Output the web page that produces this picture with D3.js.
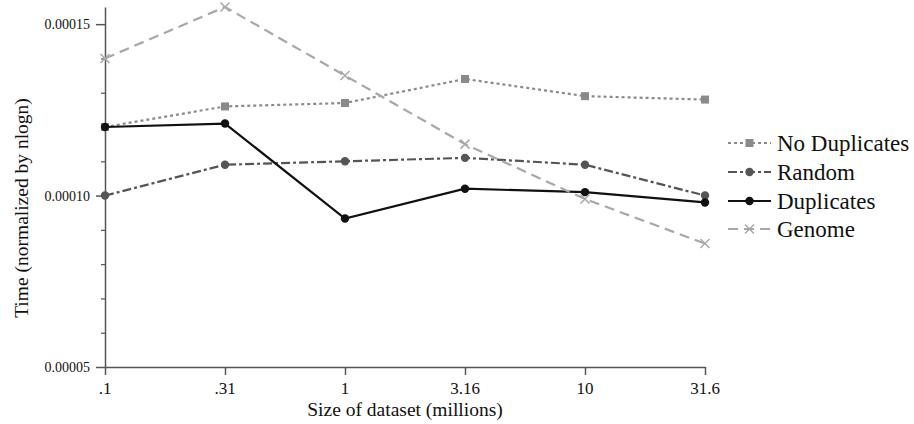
<!DOCTYPE html>
<html>
<head>
<meta charset="utf-8">
<script src="https://cdn.jsdelivr.net/npm/d3@7"></script>
<style>
  html, body { margin: 0; padding: 0; background: #fff; }
</style>
</head>
<body>
<svg id="chart" width="914" height="424"></svg>
<script>
const categories = [".1", ".31", "1", "3.16", "10", "31.6"];
const noDuplicates = [0.000120, 0.000126, 0.000127, 0.000134, 0.000129, 0.000128];
const random = [0.000100, 0.000109, 0.000110, 0.000111, 0.000109, 0.000100];
const duplicates = [0.000120, 0.000121, 0.0000933, 0.000102, 0.000101, 0.000098];
const genome = [0.000140, 0.000155, 0.000135, 0.000115, 0.000099, 0.000086];
const yMajorTicks = [0.00005, 0.00010, 0.00015];
const yMinorTicks = [0.00006, 0.00007, 0.00008, 0.00009, 0.00011, 0.00012, 0.00013, 0.00014];
const yTickLabels = ["0.00005", "0.00010", "0.00015"];

const FONT = "Liberation Serif";

const series = [
  { name: "No Duplicates", values: noDuplicates, color: "#8a8a8a", dash: "3,3", marker: "square" },
  { name: "Random", values: random, color: "#555555", dash: "9,3,3,3", marker: "circle" },
  { name: "Duplicates", values: duplicates, color: "#111111", dash: null, marker: "circle" },
  { name: "Genome", values: genome, color: "#a8a8a8", dash: "10,6", marker: "cross" }
];

const svg = d3.select("#chart");
const x = d3.scalePoint().domain(categories).range([105, 705]);
const y = d3.scaleLinear().domain([0.00005, 0.000155]).range([367, 7]);

const axisColor = "#555";

function addText(px, py, str, size, anchor, transform) {
  const t = svg.append("text")
    .attr("font-family", FONT).attr("font-size", size).attr("fill", "#111")
    .style("font-family", FONT).style("font-size", size + "px")
    .attr("text-anchor", anchor).text(str);
  if (transform) t.attr("transform", transform);
  else t.attr("x", px).attr("y", py);
  return t;
}

// y axis (lines via d3 axis, labels as top-level text)
const gy = svg.append("g").attr("transform", "translate(105,0)");
gy.call(d3.axisLeft(y).tickValues(yMajorTicks).tickSize(9).tickSizeOuter(0).tickFormat(""));
gy.select(".domain").attr("stroke", axisColor).attr("stroke-width", 1.5);
gy.selectAll(".tick line").attr("stroke", axisColor).attr("stroke-width", 1.5);
const gyMinor = svg.append("g").attr("transform", "translate(105,0)");
gyMinor.call(d3.axisLeft(y).tickValues(yMinorTicks).tickSize(4).tickFormat(""));
gyMinor.select(".domain").remove();
gyMinor.selectAll(".tick line").attr("stroke", axisColor).attr("stroke-width", 1.2);
yMajorTicks.forEach((v, i) => addText(90, y(v) + 5, yTickLabels[i], 14, "end"));

// x axis
const gx = svg.append("g").attr("transform", "translate(0,367)");
gx.call(d3.axisBottom(x).tickSize(8).tickSizeOuter(0).tickFormat(""));
gx.select(".domain").attr("stroke", axisColor).attr("stroke-width", 1.5);
gx.selectAll(".tick line").attr("stroke", axisColor).attr("stroke-width", 1.5);
categories.forEach(c => addText(x(c), 394, c, 17, "middle"));

// axis titles
addText(405, 416, "Size of dataset (millions)", 19.5, "middle");
addText(0, 0, "Time (normalized by nlogn)", 19.5, "middle", "translate(28,208) rotate(-90)");

function drawMarker(g, type, cx, cy, color) {
  if (type === "square") {
    g.append("rect").attr("x", cx - 4).attr("y", cy - 4).attr("width", 8).attr("height", 8).attr("fill", color);
  } else if (type === "circle") {
    g.append("circle").attr("cx", cx).attr("cy", cy).attr("r", 4.2).attr("fill", color);
  } else {
    const s = 4.5;
    g.append("path").attr("d", `M${cx - s},${cy - s}L${cx + s},${cy + s}M${cx - s},${cy + s}L${cx + s},${cy - s}`)
      .attr("stroke", color).attr("stroke-width", 1.5).attr("fill", "none");
  }
}

const line = d3.line().x((d, i) => x(categories[i])).y(d => y(d));
series.forEach(s => {
  const g = svg.append("g");
  g.append("path").datum(s.values).attr("d", line).attr("fill", "none")
    .attr("stroke", s.color).attr("stroke-width", 2.2)
    .attr("stroke-dasharray", s.dash);
  s.values.forEach((v, i) => drawMarker(g, s.marker, x(categories[i]), y(v), s.color));
});

// legend
const legendY = [143, 172, 201, 229];
series.forEach((s, i) => {
  const g = svg.append("g");
  const ly = legendY[i];
  g.append("line").attr("x1", 728).attr("x2", 771).attr("y1", ly).attr("y2", ly)
    .attr("stroke", s.color).attr("stroke-width", 2.2).attr("stroke-dasharray", s.dash);
  drawMarker(g, s.marker, 749.5, ly, s.color);
  addText(777, ly + 8, s.name, 23, "start");
});
</script>
</body>
</html>
